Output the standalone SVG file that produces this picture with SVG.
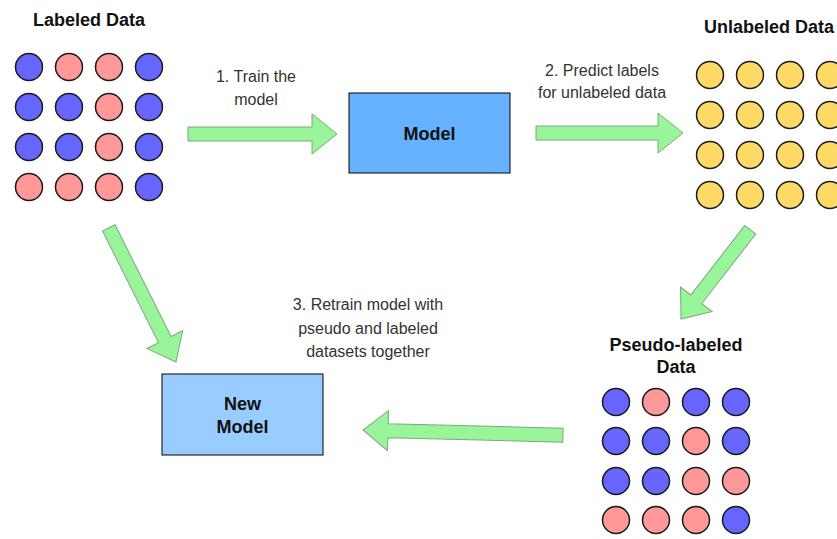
<svg xmlns="http://www.w3.org/2000/svg" width="837" height="539" viewBox="0 0 837 539">
<defs>
<style>
.b{fill:#6666FF;stroke:#1a1a1a;stroke-width:1.5}
.p{fill:#FF9999;stroke:#1a1a1a;stroke-width:1.5}
.y{fill:#FFD966;stroke:#1a1a1a;stroke-width:1.5}
.title{font-family:"Liberation Sans",Arial,sans-serif;font-weight:bold;font-size:18px;fill:#111;text-anchor:middle}
.lbl{font-family:"Liberation Sans",Arial,sans-serif;font-size:16px;fill:#333;text-anchor:middle}
.arrow{fill:#99F599;stroke:#7fa87f;stroke-width:1}
</style>
<circle id="cb" class="b" r="13.5"/>
<circle id="cp" class="p" r="13.5"/>
<circle id="cy" class="y" r="13.5"/>
</defs>
<rect width="837" height="539" fill="#ffffff"/>

<g id="labeled-data">
<text class="title" x="89" y="26">Labeled Data</text>
<use href="#cb" x="29" y="67"/><use href="#cp" x="69" y="67"/><use href="#cp" x="109" y="67"/><use href="#cb" x="149" y="67"/>
<use href="#cb" x="29" y="107"/><use href="#cb" x="69" y="107"/><use href="#cp" x="109" y="107"/><use href="#cb" x="149" y="107"/>
<use href="#cb" x="29" y="147"/><use href="#cb" x="69" y="147"/><use href="#cp" x="109" y="147"/><use href="#cb" x="149" y="147"/>
<use href="#cp" x="29" y="187"/><use href="#cp" x="69" y="187"/><use href="#cp" x="109" y="187"/><use href="#cb" x="149" y="187"/>
</g>

<g id="model">
<rect x="349" y="93" width="161" height="80" fill="#66B2FF" stroke="#000" stroke-width="1"/>
<text class="title" x="429.5" y="139.5">Model</text>
</g>

<g id="unlabeled-data">
<text class="title" x="769" y="33">Unlabeled Data</text>
<use href="#cy" x="710" y="75"/><use href="#cy" x="750" y="75"/><use href="#cy" x="790" y="75"/><use href="#cy" x="830" y="75"/>
<use href="#cy" x="710" y="115"/><use href="#cy" x="750" y="115"/><use href="#cy" x="790" y="115"/><use href="#cy" x="830" y="115"/>
<use href="#cy" x="710" y="155"/><use href="#cy" x="750" y="155"/><use href="#cy" x="790" y="155"/><use href="#cy" x="830" y="155"/>
<use href="#cy" x="710" y="195"/><use href="#cy" x="750" y="195"/><use href="#cy" x="790" y="195"/><use href="#cy" x="830" y="195"/>
</g>

<g id="pseudo-labeled-data">
<text class="title" x="676" y="351">Pseudo-labeled</text>
<text class="title" x="676" y="373">Data</text>
<use href="#cb" x="616" y="402"/><use href="#cp" x="656" y="402"/><use href="#cb" x="696" y="402"/><use href="#cb" x="736" y="402"/>
<use href="#cb" x="616" y="441"/><use href="#cb" x="656" y="441"/><use href="#cp" x="696" y="441"/><use href="#cb" x="736" y="441"/>
<use href="#cb" x="616" y="481"/><use href="#cb" x="656" y="481"/><use href="#cp" x="696" y="481"/><use href="#cp" x="736" y="481"/>
<use href="#cp" x="616" y="520"/><use href="#cp" x="656" y="520"/><use href="#cp" x="696" y="520"/><use href="#cb" x="736" y="520"/>
</g>

<g id="new-model">
<rect x="162" y="374" width="161" height="81" fill="#99CCFF" stroke="#000" stroke-width="1"/>
<text class="title" x="242.5" y="410">New</text>
<text class="title" x="242.5" y="433">Model</text>
</g>

<g id="connectors">
<polygon class="arrow" transform="translate(337,134)" points="-149,-7 -25,-7 -25,-20 0,0 -25,20 -25,7 -149,7"/>
<polygon class="arrow" transform="translate(683,133)" points="-147,-7 -25,-7 -25,-20 0,0 -25,20 -25,7 -147,7"/>
<polygon class="arrow" transform="translate(681,319) rotate(127.8)" points="-113,-7 -25,-7 -25,-20 0,0 -25,20 -25,7 -113,7"/>
<polygon class="arrow" transform="translate(176,362) rotate(63.4)" points="-150,-7 -25,-7 -25,-20 0,0 -25,20 -25,7 -150,7"/>
<polygon class="arrow" transform="translate(363,430) rotate(181.5)" points="-200,-7 -25,-7 -25,-20 0,0 -25,20 -25,7 -200,7"/>
<text class="lbl" x="256" y="82">1. Train the</text>
<text class="lbl" x="256" y="105">model</text>
<text class="lbl" x="602" y="76">2. Predict labels</text>
<text class="lbl" x="602" y="98">for unlabeled data</text>
<text class="lbl" x="368" y="310">3. Retrain model with</text>
<text class="lbl" x="368" y="334">pseudo and labeled</text>
<text class="lbl" x="368" y="357">datasets together</text>
</g>
</svg>
